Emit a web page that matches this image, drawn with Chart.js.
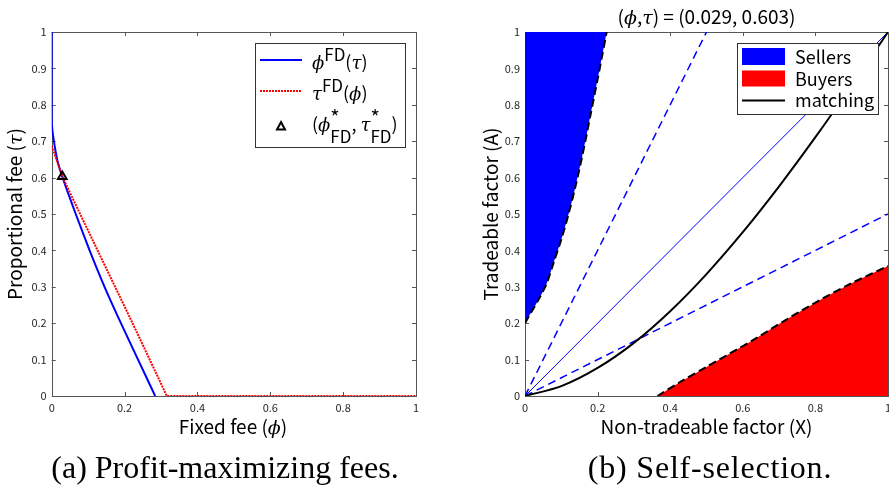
<!DOCTYPE html>
<html>
<head>
<meta charset="utf-8">
<script src="https://cdn.jsdelivr.net/npm/chart.js@4.4.1/dist/chart.umd.min.js"></script>
<style>
  html, body { margin: 0; padding: 0; background: #fff; width: 889px; height: 499px; overflow: hidden; }
  #izq { position: absolute; left: 0; top: 0; }
  #der { position: absolute; left: 440px; top: 0; }
  .caption {
    position: absolute; top: 449px; transform: translateX(-50%);
    font-family: "Liberation Serif", serif; font-size: 32px; color: #000; white-space: nowrap;
  }
</style>
</head>
<body>
<canvas id="izq" width="440" height="450"></canvas>
<canvas id="der" width="470" height="450"></canvas>
<div class="caption" style="left:225px">(a) Profit-maximizing fees.</div>
<div class="caption" style="left:710px; letter-spacing:0.8px">(b) Self-selection.</div>
<script>
// curva phi^FD(tau)
const phiFdX = [0, 0, 0.002, 0.006, 0.015, 0.03, 0.066, 0.104, 0.145, 0.19, 0.237, 0.284];
const phiFdY = [1, 0.76, 0.73, 0.7, 0.65, 0.6, 0.5, 0.4, 0.3, 0.2, 0.1, 0];
// curva tau^FD(phi)
const tauFdX = [0, 0.029, 0.078, 0.126, 0.174, 0.222, 0.269, 0.316, 1];
const tauFdY = [0.687, 0.603, 0.5, 0.4, 0.3, 0.2, 0.1, 0, 0];
// punto optimo
const optimo = [0.029, 0.603];

// frontera vendedores / compradores
const sellersX = [0, 0.02, 0.037, 0.06, 0.08, 0.1, 0.12, 0.14, 0.16, 0.18, 0.2, 0.225];
const sellersA = [0.2, 0.235, 0.264, 0.31, 0.37, 0.43, 0.5, 0.58, 0.67, 0.77, 0.87, 1];
const buyersX = [0.365, 0.43, 0.5, 0.629, 0.72, 0.813, 0.9, 1];
const buyersA = [0, 0.04, 0.08, 0.154, 0.21, 0.264, 0.31, 0.357];
// curva de matching
const matchX = [0, 0.1, 0.2, 0.3, 0.4, 0.5, 0.6, 0.7, 0.8, 0.9, 1];
const matchA = [0, 0.027, 0.077, 0.146, 0.233, 0.335, 0.45, 0.576, 0.711, 0.853, 1];
// rectas de referencia
const steepX = [0, 0.5];
const steepA = [0, 1];
const diagX = [0, 1];
const diagA = [0, 1];
const flatX = [0, 1];
const flatA = [0, 0.5];

const xTicks = [0, 0.2, 0.4, 0.6, 0.8, 1];

const SANS = '"Noto Sans CJK JP", "Noto Sans", sans-serif';
const GREEK = '"DejaVu Serif", serif';
const sans = (s) => `${s}px ${SANS}`;
const greek = (s) => `italic ${s}px ${GREEK}`;

const puntos = (xs, ys) => xs.map((x, i) => ({ x, y: ys[i] }));

// dibuja texto con partes (fuente, desplazamiento, apilado)
const drawRich = (ctx, x, y, parts, align = "left") => {
  ctx.save();
  ctx.textBaseline = "alphabetic";
  ctx.textAlign = "left";
  const widths = parts.map((p) => {
    ctx.font = p.f;
    return ctx.measureText(p.t).width;
  });
  let total = 0;
  let held = 0;
  parts.forEach((p, i) => {
    if (p.stack) held = widths[i];
    else {
      total += Math.max(widths[i], held);
      held = 0;
    }
  });
  let cx = align === "center" ? x - total / 2 : x;
  held = 0;
  parts.forEach((p, i) => {
    ctx.font = p.f;
    ctx.fillStyle = "#000";
    ctx.fillText(p.t, cx, y + (p.dy || 0));
    if (p.stack) held = widths[i];
    else {
      cx += Math.max(widths[i], held);
      held = 0;
    }
  });
  ctx.restore();
};

const drawVertical = (ctx, cx, cy, parts) => {
  ctx.save();
  ctx.translate(cx, cy);
  ctx.rotate(-Math.PI / 2);
  drawRich(ctx, 0, 7, parts, "center");
  ctx.restore();
};

// marco con marcas hacia adentro en los cuatro lados
const marco = {
  id: "marco",
  beforeDatasetsDraw(chart) {
    const { ctx, chartArea: a, scales } = chart;
    ctx.save();
    ctx.strokeStyle = "#555";
    ctx.lineWidth = 1;
    ctx.beginPath();
    scales.x.ticks.forEach((t) => {
      const px = Math.round(scales.x.getPixelForValue(t.value)) + 0.5;
      ctx.moveTo(px, a.bottom);
      ctx.lineTo(px, a.bottom - 4);
      ctx.moveTo(px, a.top);
      ctx.lineTo(px, a.top + 4);
    });
    scales.y.ticks.forEach((t) => {
      const py = Math.round(scales.y.getPixelForValue(t.value)) + 0.5;
      ctx.moveTo(a.left, py);
      ctx.lineTo(a.left + 4, py);
      ctx.moveTo(a.right, py);
      ctx.lineTo(a.right - 4, py);
    });
    ctx.stroke();
    ctx.strokeRect(Math.round(a.left) + 0.5, Math.round(a.top) + 0.5, Math.round(a.width), Math.round(a.height));
    ctx.restore();
  },
};

const escalas = (yWidth) => ({
  x: {
    type: "linear",
    min: 0,
    max: 1,
    afterBuildTicks: (s) => {
      s.ticks = xTicks.map((v) => ({ value: v }));
    },
    afterFit: (s) => {
      s.height = 54;
    },
    grid: { display: false, drawTicks: false },
    border: { display: false },
    ticks: {
      padding: 5,
      autoSkip: false,
      maxRotation: 0,
      color: "#262626",
      font: { family: SANS, size: 11 },
      callback: (v) => String(Number(v.toFixed(1))),
    },
  },
  y: {
    type: "linear",
    min: 0,
    max: 1,
    afterFit: (s) => {
      s.width = yWidth;
    },
    grid: { display: false, drawTicks: false },
    border: { display: false },
    ticks: {
      stepSize: 0.1,
      padding: 5,
      autoSkip: false,
      color: "#262626",
      font: { family: SANS, size: 11 },
      callback: (v) => String(Number(v.toFixed(1))),
    },
  },
});

const base = {
  responsive: false,
  animation: false,
  events: [],
  plugins: { legend: { display: false }, tooltip: { enabled: false } },
};

// textos del panel izquierdo
const textosIzq = {
  id: "textosIzq",
  afterDraw(chart) {
    const { ctx } = chart;
    drawVertical(ctx, 15, 214, [
      { t: "Proportional fee (", f: sans(19) },
      { t: "τ", f: greek(19) },
      { t: ")", f: sans(19) },
    ]);
    drawRich(ctx, 233, 434, [
      { t: "Fixed fee (", f: sans(19) },
      { t: "ϕ", f: greek(19) },
      { t: ")", f: sans(19) },
    ], "center");

    // leyenda
    ctx.save();
    ctx.fillStyle = "#fff";
    ctx.fillRect(255.5, 43.5, 150, 104);
    ctx.strokeStyle = "#333";
    ctx.lineWidth = 1;
    ctx.strokeRect(255.5, 43.5, 150, 104);
    ctx.lineWidth = 2;
    ctx.strokeStyle = "#0000ff";
    ctx.beginPath();
    ctx.moveTo(260, 60);
    ctx.lineTo(302, 60);
    ctx.stroke();
    ctx.strokeStyle = "#ff0000";
    ctx.setLineDash([2, 1]);
    ctx.beginPath();
    ctx.moveTo(260, 91);
    ctx.lineTo(302, 91);
    ctx.stroke();
    ctx.setLineDash([]);
    ctx.strokeStyle = "#000";
    ctx.beginPath();
    ctx.moveTo(281, 122);
    ctx.lineTo(285, 129.5);
    ctx.lineTo(277, 129.5);
    ctx.closePath();
    ctx.stroke();
    ctx.restore();

    drawRich(ctx, 312, 69, [
      { t: "ϕ", f: greek(18) },
      { t: "FD", f: sans(17), dy: -8 },
      { t: "(", f: sans(18) },
      { t: "τ", f: greek(18) },
      { t: ")", f: sans(18) },
    ]);
    drawRich(ctx, 312, 100, [
      { t: "τ", f: greek(18) },
      { t: "FD", f: sans(17), dy: -8 },
      { t: "(", f: sans(18) },
      { t: "ϕ", f: greek(18) },
      { t: ")", f: sans(18) },
    ]);
    drawRich(ctx, 312, 131, [
      { t: "(", f: sans(18) },
      { t: "ϕ", f: greek(18) },
      { t: "*", f: sans(20), dy: -6, stack: true },
      { t: "FD", f: sans(17), dy: 12 },
      { t: ", ", f: sans(18) },
      { t: "τ", f: greek(18) },
      { t: "*", f: sans(20), dy: -6, stack: true },
      { t: "FD", f: sans(17), dy: 12 },
      { t: ")", f: sans(18) },
    ]);
  },
};

// textos del panel derecho
const textosDer = {
  id: "textosDer",
  afterDraw(chart) {
    const { ctx } = chart;
    drawRich(ctx, 266.5, 24, [
      { t: "(", f: sans(19) },
      { t: "ϕ", f: greek(19) },
      { t: ",", f: sans(19) },
      { t: "τ", f: greek(19) },
      { t: ") = (0.029, 0.603)", f: sans(19) },
    ], "center");
    drawVertical(ctx, 50.5, 214, [{ t: "Tradeable factor (A)", f: sans(19) }]);
    drawRich(ctx, 266.5, 434, [{ t: "Non-tradeable factor (X)", f: sans(19) }], "center");

    // leyenda
    ctx.save();
    ctx.fillStyle = "#fff";
    ctx.fillRect(297.5, 43.5, 141, 71);
    ctx.strokeStyle = "#333";
    ctx.lineWidth = 1;
    ctx.strokeRect(297.5, 43.5, 141, 71);
    ctx.fillStyle = "#0000ff";
    ctx.fillRect(302, 48, 43, 17);
    ctx.fillStyle = "#ff0000";
    ctx.fillRect(302, 70.5, 43, 16);
    ctx.strokeStyle = "#000";
    ctx.lineWidth = 2;
    ctx.beginPath();
    ctx.moveTo(302, 100.5);
    ctx.lineTo(345, 100.5);
    ctx.stroke();
    ctx.restore();
    drawRich(ctx, 355, 64, [{ t: "Sellers", f: sans(18) }]);
    drawRich(ctx, 355, 86, [{ t: "Buyers", f: sans(18) }]);
    drawRich(ctx, 355, 107, [{ t: "matching", f: sans(18) }]);
  },
};

// Grafico de cuotas
new Chart(document.getElementById("izq"), {
  type: "scatter",
  data: {
    datasets: [
      {
        data: [{ x: optimo[0], y: optimo[1] }],
        pointStyle: "triangle",
        pointRadius: 5,
        borderColor: "#000",
        backgroundColor: "rgba(0,0,0,0)",
        borderWidth: 2,
        order: 0,
      },
      {
        data: puntos(tauFdX, tauFdY),
        showLine: true,
        borderColor: "#ff0000",
        borderWidth: 2,
        borderDash: [2, 1],
        pointRadius: 0,
        tension: 0,
        order: 1,
      },
      {
        data: puntos(phiFdX, phiFdY),
        showLine: true,
        borderColor: "#0000ff",
        borderWidth: 2,
        pointRadius: 0,
        tension: 0.2,
        order: 2,
      },
    ],
  },
  options: {
    ...base,
    layout: { padding: { top: 32, right: 24, left: 0, bottom: 0 } },
    scales: escalas(51.7),
  },
  plugins: [marco, textosIzq],
});

// Grafico de autoseleccion
new Chart(document.getElementById("der"), {
  type: "scatter",
  data: {
    datasets: [
      {
        data: puntos(matchX, matchA),
        showLine: true,
        borderColor: "#000",
        borderWidth: 2,
        pointRadius: 0,
        tension: 0.3,
      },
      {
        data: puntos(sellersX, sellersA),
        showLine: true,
        fill: "end",
        backgroundColor: "#0000ff",
        borderColor: "#000",
        borderWidth: 2,
        borderDash: [8, 4],
        pointRadius: 0,
        tension: 0.3,
      },
      {
        data: puntos(buyersX, buyersA),
        showLine: true,
        fill: "start",
        backgroundColor: "#ff0000",
        borderColor: "#000",
        borderWidth: 2,
        borderDash: [8, 4],
        pointRadius: 0,
        tension: 0.3,
      },
      {
        data: puntos(steepX, steepA),
        showLine: true,
        borderColor: "#0000ff",
        borderWidth: 1.5,
        borderDash: [8, 5],
        pointRadius: 0,
      },
      {
        data: puntos(diagX, diagA),
        showLine: true,
        borderColor: "#0000ff",
        borderWidth: 1,
        pointRadius: 0,
      },
      {
        data: puntos(flatX, flatA),
        showLine: true,
        borderColor: "#0000ff",
        borderWidth: 1.5,
        borderDash: [8, 5],
        pointRadius: 0,
      },
    ],
  },
  options: {
    ...base,
    layout: { padding: { top: 32, right: 22, left: 0, bottom: 0 } },
    scales: escalas(85),
  },
  plugins: [marco, textosDer],
});
</script>
</body>
</html>
